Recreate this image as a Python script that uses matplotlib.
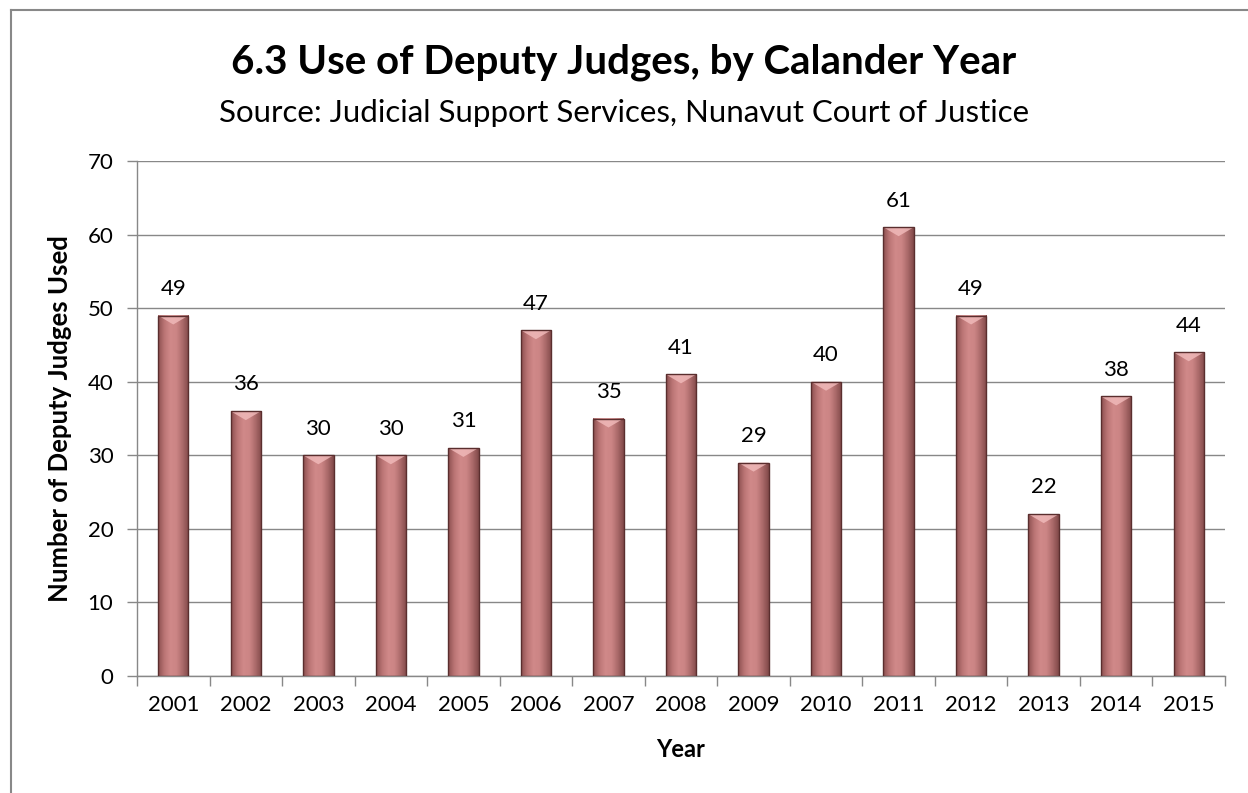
import matplotlib.pyplot as plt
import numpy as np
from matplotlib.colors import LinearSegmentedColormap
from matplotlib.lines import Line2D
from matplotlib.patches import Polygon

years = ['2001', '2002', '2003', '2004', '2005', '2006', '2007', '2008',
         '2009', '2010', '2011', '2012', '2013', '2014', '2015']
judges = [49, 36, 30, 30, 31, 47, 35, 41, 29, 40, 61, 49, 22, 38, 44]

plt.rcParams['font.family'] = ['Lato', 'DejaVu Sans']

fig = plt.figure(figsize=(12.48, 7.93), dpi=100)
ax = fig.add_axes([137 / 1248, 1 - 676 / 793, (1225 - 137) / 1248, (676 - 161) / 793])

x = np.arange(len(years))
width = 0.42

ax.set_xlim(-0.5, len(years) - 0.5)
ax.set_ylim(0, 70)

# bars, filled afterwards with a gradient
bars = ax.bar(x, judges, width, color='none', edgecolor='#5a2e2e', linewidth=1.0, zorder=4)

# horizontal shading: dark edges, light centre
cmap = LinearSegmentedColormap.from_list('bar', ['#8c5050', '#bb7575', '#d08989', '#cc8585', '#ab6a6a', '#814949'])
grad = np.linspace(0, 1, 64).reshape(1, -1)
# bevel depth ~8 px in data units
px = 70 / (ax.get_position().height * 793)
for rect in bars:
    bx, bw, bh = rect.get_x(), rect.get_width(), rect.get_height()
    im = ax.imshow(grad, cmap=cmap, aspect='auto', extent=(bx, bx + bw, 0, bh), zorder=2, interpolation='bicubic')
    im.set_clip_path(rect)
    bevel = Polygon([(bx, bh), (bx + bw, bh), (bx + bw / 2, bh - 9 * px)], closed=True,
                    facecolor='#f2bcbc', edgecolor='none', alpha=0.8, zorder=3)
    ax.add_patch(bevel)

ax.set_yticks(np.arange(0, 71, 10))
ax.set_xticks(x)
ax.set_xticklabels(years)
ax.set_xticks(np.arange(-0.5, len(years), 1), minor=True)
ax.tick_params(axis='x', which='major', length=0, pad=14, labelsize=16)
ax.tick_params(axis='x', which='minor', length=7, color='#888888', width=1)
ax.tick_params(axis='y', length=7, color='#888888', width=1, labelsize=16, pad=10)

ax.grid(axis='y', color='#888888', linewidth=1, zorder=0)
ax.set_axisbelow(True)
for side in ['top', 'right']:
    ax.spines[side].set_visible(False)
for side in ['left', 'bottom']:
    ax.spines[side].set_color('#888888')
    ax.spines[side].set_linewidth(1)

for xi, v in zip(x, judges):
    ax.annotate(str(v), xy=(xi, v), xytext=(0, 12), textcoords='offset points',
                ha='center', va='bottom', fontsize=16)

ax.set_xlabel('Year', fontsize=17, fontweight='bold', labelpad=16)
ax.set_ylabel('Number of Deputy Judges Used', fontsize=18.5, fontweight='bold', labelpad=11)

fig.text(0.5, 1 - 62 / 793, '6.3 Use of Deputy Judges, by Calander Year',
         ha='center', va='center', fontsize=29, fontweight='bold')
fig.text(0.5, 1 - 113 / 793, 'Source: Judicial Support Services, Nunavut Court of Justice',
         ha='center', va='center', fontsize=22.5)

# chart frame (left and top edges visible)
fig.add_artist(Line2D([11 / 1248, 11 / 1248], [0, 1 - 10 / 793], color='#888888', linewidth=1.5,
                      transform=fig.transFigure))
fig.add_artist(Line2D([11 / 1248, 1], [1 - 10 / 793, 1 - 10 / 793], color='#888888', linewidth=1.5,
                      transform=fig.transFigure))

fig.savefig('out.png', dpi=100)
